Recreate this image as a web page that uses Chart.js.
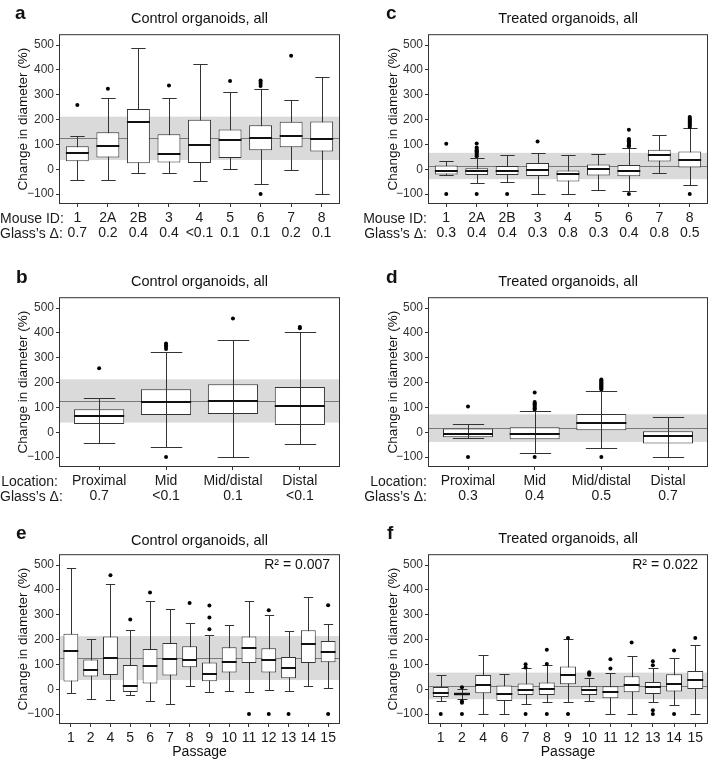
<!DOCTYPE html>
<html>
<head>
<meta charset="utf-8">
<script src="https://cdn.jsdelivr.net/npm/chart.js@4.4.1/dist/chart.umd.min.js"></script>
<style>
html, body { margin: 0; padding: 0; background: #fff; overflow: hidden; }
#fig { position: relative; width: 709px; height: 761px; font-family: "Liberation Sans", Arial, Helvetica, sans-serif; color: #111; }
canvas { position: absolute; }
.title { position: absolute; white-space: nowrap; font-size: 14.5px; line-height: 16px; transform: translateX(-50%); }
.letter { position: absolute; font-weight: bold; font-size: 19px; line-height: 20px; }
.hdr { position: absolute; font-size: 14px; line-height: 14px; text-align: right; white-space: nowrap; color: #1a1a1a; }
.r2 { position: absolute; font-size: 14px; line-height: 14px; white-space: nowrap; transform: translateX(-100%); }
</style>
</head>
<body>
<div id="fig"></div>
<script>
// y axis (shared by all panels)
const yTicks = [-100, 0, 100, 200, 300, 400, 500];
const yRange = [-140, 544];

// a: control organoids by mouse
const aMouse = ['1', '2A', '2B', '3', '4', '5', '6', '7', '8'];
const aGlass = ['0.7', '0.2', '0.4', '0.4', '<0.1', '0.1', '0.1', '0.2', '0.1'];
const aLow = [-45, -43, -17, -15, -49, 1, -61, -5, -100];
const aQ1 = [32, 47, 24, 27, 25, 45, 77, 89, 71];
const aMed = [64, 95, 189, 61, 97, 117, 127, 133, 123];
const aQ3 = [93, 149, 243, 141, 199, 160, 177, 191, 192];
const aHigh = [135, 285, 488, 288, 423, 313, 324, 277, 372];
const aOut = [[259], [324], [], [337], [], [355], [357, 351, 344, 335, -100], [457], []];
const aBand = [37, 212];
const aMean = 125;

// c: treated organoids by mouse
const cMouse = ['1', '2A', '2B', '3', '4', '5', '6', '7', '8'];
const cGlass = ['0.3', '0.4', '0.4', '0.3', '0.8', '0.3', '0.4', '0.8', '0.5'];
const cLow = [-25, -55, -51, -100, -100, -84, -87, -17, -64];
const cQ1 = [-21, -23, -23, -27, -49, -25, -28, 31, 7];
const cMed = [-7, -9, -9, -5, -20, -1, -7, 56, 36];
const cQ3 = [15, 4, 13, 25, -5, 19, 17, 79, 71];
const cHigh = [34, 44, 57, 67, 57, 60, 87, 136, 165];
const cOut = [[103, -100], [104, 88, 82, 77, 72, 67, 62, 57, 52, -100], [-100], [112], [], [],
  [159, 122, 117, 112, 107, 102, 97, 92, -100], [], [210, 206, 202, 198, 194, 190, 186, 182, 178, 174, 170, -100]];
const cBand = [-40, 66];
const cMean = 14;

// b: control organoids by location
const bLoc = ['Proximal', 'Mid', 'Mid/distal', 'Distal'];
const bGlass = ['0.7', '<0.1', '0.1', '<0.1'];
const bLow = [-44, -60, -100, -48];
const bQ1 = [33, 69, 73, 29];
const bMed = [65, 120, 125, 105];
const bQ3 = [93, 173, 193, 182];
const bHigh = [136, 323, 372, 403];
const bOut = [[258], [357, 350, 343, 335, -100], [458], [424, 419]];
const bBand = [39, 213];
const bMean = 126;

// d: treated organoids by location
const dLoc = ['Proximal', 'Mid', 'Mid/distal', 'Distal'];
const dGlass = ['0.3', '0.4', '0.5', '0.7'];
const dLow = [-25, -85, -64, -100];
const dQ1 = [-20, -28, 8, -45];
const dMed = [-7, -7, 39, -17];
const dQ3 = [15, 20, 73, 4];
const dHigh = [33, 86, 165, 61];
const dOut = [[104, -100], [160, 122, 117, 112, 107, 102, 97, 92, -100],
  [212, 208, 204, 200, 196, 192, 188, 184, 180, 176, 172, -100], []];
const dBand = [-39, 72];
const dMean = 17;

// e: control organoids by passage
const ePass = ['1', '2', '4', '5', '6', '7', '8', '9', '10', '11', '12', '13', '14', '15'];
const eLow = [-16, -41, -44, -24, -47, -60, 15, -13, -7, -13, -3, -9, 12, 7];
const eQ1 = [31, 51, 57, -11, 23, 55, 89, 32, 67, 106, 67, 44, 106, 109];
const eMed = [156, 76, 126, 12, 94, 121, 118, 63, 109, 165, 118, 86, 181, 149];
const eQ3 = [224, 120, 212, 98, 162, 186, 173, 108, 169, 212, 165, 130, 238, 194];
const eHigh = [490, 204, 423, 238, 354, 325, 266, 219, 257, 357, 301, 233, 372, 263];
const eOut = [[], [], [459], [281], [390], [], [347], [337, 289, 242], [], [-100], [318, -100], [-100], [], [338, -100]];
const eBand = [37, 214];
const eMean = 126;

// f: treated organoids by passage
const fPass = ['1', '2', '4', '6', '7', '8', '9', '10', '11', '12', '13', '14', '15'];
const fLow = [-49, -40, -100, -100, -60, -51, -53, -47, -100, -100, -51, -63, -100];
const fQ1 = [-31, -25, -16, -47, -23, -23, 20, -23, -36, -12, -19, -9, 1];
const fMed = [-16, -19, 19, -20, -3, 1, 56, -3, -13, 19, 9, 20, 38];
const fQ3 = [9, -13, 57, 15, 23, 27, 92, 12, 12, 52, 29, 60, 73];
const fHigh = [57, 3, 137, 63, 85, 97, 201, 47, 66, 133, 84, 125, 177];
const fOut = [[-100], [8, -48, -54, -100], [], [], [101, 88, -100], [159, 102, -100], [206, -100],
  [68, 63, 58], [121, 84], [188], [113, 97, -85, -100], [156, -100], [206]];
const fBand = [-40, 67];
const fMean = 14;

const FONT = '"Liberation Sans", Arial, Helvetica, sans-serif';
const fig = document.getElementById('fig');

const panels = [
  { letter: 'a', title: 'Control organoids, all', cats: aMouse, glass: aGlass, head: ['Mouse ID:', 'Glass\u2019s \u0394:'],
    lo: aLow, q1: aQ1, med: aMed, q3: aQ3, hi: aHigh, out: aOut, band: aBand, mean: aMean,
    canvas: { l: 0, t: 25, r: 342, b: 245 }, plot: { l: 59, t: 33, r: 340, b: 204 }, yTitleX: 23.5,
    titleY: 18, letterXY: [15, 12.5] },
  { letter: 'c', title: 'Treated organoids, all', cats: cMouse, glass: cGlass, head: ['Mouse ID:', 'Glass\u2019s \u0394:'],
    lo: cLow, q1: cQ1, med: cMed, q3: cQ3, hi: cHigh, out: cOut, band: cBand, mean: cMean,
    canvas: { l: 350, t: 25, r: 709, b: 245 }, plot: { l: 428, t: 33, r: 708, b: 204 }, yTitleX: 393.5,
    titleY: 18, letterXY: [386, 12.5] },
  { letter: 'b', title: 'Control organoids, all', cats: bLoc, glass: bGlass, head: ['Location:', 'Glass\u2019s \u0394:'],
    lo: bLow, q1: bQ1, med: bMed, q3: bQ3, hi: bHigh, out: bOut, band: bBand, mean: bMean, whiskersOnTop: true,
    canvas: { l: 0, t: 288, r: 342, b: 505 }, plot: { l: 59, t: 296, r: 340, b: 467 }, yTitleX: 23.5,
    titleY: 281, letterXY: [16, 276.5] },
  { letter: 'd', title: 'Treated organoids, all', cats: dLoc, glass: dGlass, head: ['Location:', 'Glass\u2019s \u0394:'],
    lo: dLow, q1: dQ1, med: dMed, q3: dQ3, hi: dHigh, out: dOut, band: dBand, mean: dMean, whiskersOnTop: true,
    canvas: { l: 350, t: 288, r: 709, b: 505 }, plot: { l: 428, t: 296, r: 708, b: 467 }, yTitleX: 393.5,
    titleY: 281, letterXY: [386, 276.5] },
  { letter: 'e', title: 'Control organoids, all', cats: ePass, xTitle: 'Passage', r2: 'R\u00b2 = 0.007',
    lo: eLow, q1: eQ1, med: eMed, q3: eQ3, hi: eHigh, out: eOut, band: eBand, mean: eMean,
    canvas: { l: 0, t: 545, r: 342, b: 761 }, plot: { l: 59, t: 553, r: 340, b: 724 }, yTitleX: 23.5,
    titleY: 540, letterXY: [16, 533] },
  { letter: 'f', title: 'Treated organoids, all', cats: fPass, xTitle: 'Passage', r2: 'R\u00b2 = 0.022',
    lo: fLow, q1: fQ1, med: fMed, q3: fQ3, hi: fHigh, out: fOut, band: fBand, mean: fMean,
    canvas: { l: 350, t: 545, r: 709, b: 761 }, plot: { l: 428, t: 553, r: 708, b: 724 }, yTitleX: 393.5,
    titleY: 538, letterXY: [387, 533] }
];

function addText(cls, text, left, top, extra) {
  const d = document.createElement('div');
  d.className = cls;
  d.textContent = text;
  d.style.left = left + 'px';
  d.style.top = top + 'px';
  if (extra) Object.assign(d.style, extra);
  fig.appendChild(d);
}

function makePanel(p) {
  const cv = document.createElement('canvas');
  cv.width = p.canvas.r - p.canvas.l;
  cv.height = p.canvas.b - p.canvas.t;
  cv.style.left = p.canvas.l + 'px';
  cv.style.top = p.canvas.t + 'px';
  fig.appendChild(cv);

  const n = p.cats.length;
  const boxes = p.q1.map((v, i) => ({ x: i, y: [v, p.q3[i]] }));
  const outliers = [];
  p.out.forEach((arr, i) => arr.forEach(v => outliers.push({ x: i, y: v })));

  function whiskers(chart) {
    const { ctx, scales: { x, y } } = chart;
    const cw = x.getPixelForValue(0.235) - x.getPixelForValue(0);
    ctx.save();
    ctx.strokeStyle = '#333';
    ctx.lineWidth = 1;
    p.lo.forEach((lo, i) => {
      const px = Math.round(x.getPixelForValue(i)) + 0.5;
      const yl = Math.round(y.getPixelForValue(lo)) + 0.5;
      const yh = Math.round(y.getPixelForValue(p.hi[i])) + 0.5;
      ctx.beginPath();
      ctx.moveTo(px, yh); ctx.lineTo(px, yl);
      ctx.moveTo(px - cw, yh); ctx.lineTo(px + cw, yh);
      ctx.moveTo(px - cw, yl); ctx.lineTo(px + cw, yl);
      ctx.stroke();
    });
    ctx.restore();
  }

  const boxPlugin = {
    id: 'boxparts' + p.letter,
    beforeDatasetsDraw(chart) {
      const { ctx, chartArea: ca, scales: { y } } = chart;
      ctx.save();
      const b1 = y.getPixelForValue(p.band[1]);
      const b0 = y.getPixelForValue(p.band[0]);
      ctx.fillStyle = '#dadada';
      ctx.fillRect(ca.left, b1, ca.right - ca.left, b0 - b1);
      const ym = Math.round(y.getPixelForValue(p.mean)) + 0.5;
      ctx.strokeStyle = '#7a7a7a';
      ctx.lineWidth = 1;
      ctx.beginPath();
      ctx.moveTo(ca.left, ym); ctx.lineTo(ca.right, ym);
      ctx.stroke();
      ctx.restore();
      if (!p.whiskersOnTop) whiskers(chart);
    },
    afterDatasetsDraw(chart) {
      const { ctx, chartArea: ca, scales: { x, y } } = chart;
      if (p.whiskersOnTop) whiskers(chart);
      const hw = x.getPixelForValue(0.375) - x.getPixelForValue(0);
      ctx.save();
      ctx.strokeStyle = '#111';
      ctx.lineWidth = 2;
      p.med.forEach((m, i) => {
        const px = x.getPixelForValue(i);
        const py = Math.round(y.getPixelForValue(m));
        ctx.beginPath();
        ctx.moveTo(px - hw, py); ctx.lineTo(px + hw, py);
        ctx.stroke();
      });
      ctx.strokeStyle = '#333';
      ctx.lineWidth = 1;
      ctx.strokeRect(ca.left + 0.5, ca.top + 0.5, ca.right - ca.left - 1, ca.bottom - ca.top - 1);
      ctx.restore();
    }
  };

  const xH = p.canvas.b - p.plot.b;
  const yW = p.plot.l - p.canvas.l;

  new Chart(cv, {
    type: 'bar',
    data: {
      datasets: [
        { type: 'scatter', data: outliers, pointRadius: 2, pointHoverRadius: 2,
          backgroundColor: '#000', borderWidth: 0 },
        { type: 'bar', data: boxes, backgroundColor: '#fff', borderColor: '#333', borderWidth: 1,
          borderSkipped: false, barPercentage: 0.75, categoryPercentage: 1 }
      ]
    },
    options: {
      responsive: false,
      animation: false,
      events: [],
      layout: {
        autoPadding: false,
        padding: { left: 0, top: p.plot.t - p.canvas.t, right: p.canvas.r - p.plot.r, bottom: 0 }
      },
      plugins: { legend: { display: false }, tooltip: { enabled: false }, title: { display: false } },
      scales: {
        x: {
          type: 'linear', min: -0.6, max: n - 0.4, offset: false,
          grid: { drawOnChartArea: false, drawTicks: true, tickLength: 3, color: '#333', offset: false },
          border: { display: false },
          afterBuildTicks: s => { s.ticks = p.cats.map((c, i) => ({ value: i })); },
          afterFit: s => { s.height = xH; },
          ticks: {
            autoSkip: false, maxRotation: 0, minRotation: 0, padding: 4, color: '#1a1a1a',
            font: { size: 14, family: FONT, lineHeight: 1.036 },
            callback: v => p.glass ? [p.cats[v], p.glass[v]] : p.cats[v]
          },
          title: p.xTitle ? { display: true, text: p.xTitle, color: '#111', padding: { top: 0, bottom: 0 },
            font: { size: 14, family: FONT } } : { display: false }
        },
        y: {
          type: 'linear', min: yRange[0], max: yRange[1],
          grid: { drawOnChartArea: false, drawTicks: true, tickLength: 3, color: '#333' },
          border: { display: false },
          afterBuildTicks: s => { s.ticks = yTicks.map(v => ({ value: v })); },
          afterFit: s => { s.width = yW; },
          ticks: {
            padding: 2, color: '#333', font: { size: 12, family: FONT },
            callback: v => String(v).replace('-', '\u2212')
          },
          title: { display: true, text: 'Change in diameter (%)', color: '#111',
            padding: { top: p.yTitleX - p.canvas.l - 8, bottom: 0 }, font: { size: 13.5, family: FONT } }
        }
      }
    },
    plugins: [boxPlugin]
  });

  // titles, panel letters, row headers
  addText('title', p.title, (p.plot.l + p.plot.r) / 2, p.titleY - 8);
  addText('letter', p.letter, p.letterXY[0], p.letterXY[1] - 10);
  if (p.head) {
    const w = p.plot.l - 1 - (p.canvas.l);
    const r1 = p.plot.b + 3 + 4 + 7.25;
    addText('hdr', p.head[0], p.canvas.l, r1 - 7, { width: w + 'px' });
    addText('hdr', p.head[1], p.canvas.l, r1 + 14.5 - 7, { width: w + 'px' });
  }
  if (p.r2) addText('r2', p.r2, p.plot.r - 10, p.plot.t + 11 - 7);
}

panels.forEach(makePanel);
</script>
</body>
</html>
